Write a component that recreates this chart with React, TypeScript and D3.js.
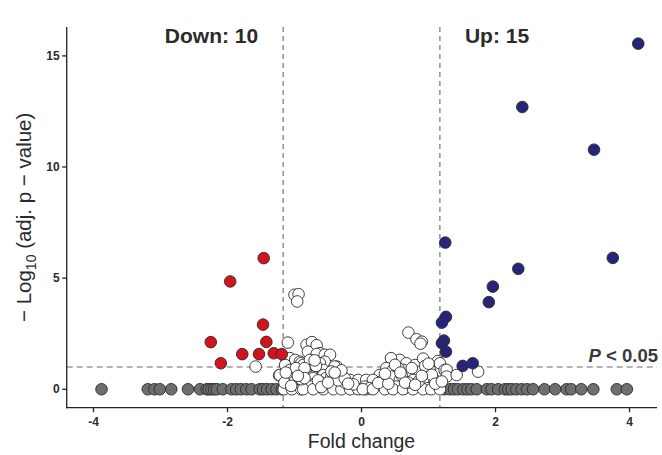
import React from "react";
import * as d3 from "d3";

const W = 662;
const H = 455;

// Significant down-regulated (red)
const downFC = [-1.46, -1.96, -1.47, -2.25, -1.42, -1.78, -1.53, -1.31, -1.19, -2.1];
const downP = [5.9, 4.85, 2.91, 2.12, 2.13, 1.58, 1.58, 1.62, 1.58, 1.17];

// Significant up-regulated (navy)
const upFC = [4.13, 2.4, 3.47, 1.25, 3.75, 2.34, 1.96, 1.9, 1.26, 1.2, 1.23, 1.2, 1.26, 1.51, 1.66];
const upP = [15.55, 12.7, 10.78, 6.6, 5.91, 5.42, 4.62, 3.92, 3.26, 3.0, 2.19, 2.07, 1.69, 1.05, 1.17];

// Not significant by p (white)
const nsFC = [
  -1.0, -0.94, -0.96,
  -1.1, -0.82, -0.74, -0.67, -0.8, -0.62, -0.67, -0.55, -0.47,
  -1.58, -1.23, -1.12, -1.07, -0.99, -0.92, -0.9, -0.87, -0.77, -0.55, -0.37, -0.4, -1.14, -0.62,
  -1.07, -0.92, -0.75, -0.57, -1.22, -1.07, -0.95, -0.82, -0.72, -0.72, -0.57, -0.53, -0.45, -0.3, -0.17, -0.05, 0.07,
  -1.0, -0.87, -0.75, -0.75, -0.62, -0.47, -0.37, -0.22, -0.1, 0.02,
  -1.16, -1.04, -0.9, -0.87, -0.72, -0.57, -0.42, -0.3, -0.17, -0.05, 0.07,
  -0.25, -0.35, -0.12, -0.65, -0.9, -1.15, -0.98, -0.85, -0.68, -0.45, -0.25,
  -1.05, -0.6, -0.5, -0.2, -0.3, -0.85, -1.13, -0.95, -0.7, -0.4,
  0.7, 0.82, 0.9, 0.88,
  0.45, 0.57, 0.67, 0.8, 0.92, 1.14, 1.17, 0.44,
  0.37, 0.47, 0.62, 0.72, 0.87, 1.02, 1.24, 1.27,
  0.27, 0.17, 0.32, 0.45, 0.57, 0.77, 0.94, 1.09, 1.27, 1.42, 1.74,
  0.05, 0.12, 0.3, 0.52, 0.65, 0.84, 0.99, 1.14,
  0.02, 0.17, 0.35, 0.47, 0.62, 0.77, 0.92, 1.04, 1.17,
  0.25, 0.4, 0.6, 0.75, 0.95, 1.05, 0.55, 0.85, 1.0, 0.7,
  0.5, 0.65, 0.9, 1.1, 0.35, 0.8, 1.2, 0.58,
];
const nsP = [
  4.25, 4.28, 3.95,
  2.1, 2.0, 2.12, 1.98, 1.69, 1.62, 1.58, 1.55, 1.55,
  1.02, 0.62, 1.32, 1.4, 1.32, 1.24, 1.17, 1.09, 1.32, 1.24, 1.02, 1.02, 1.09, 1.17,
  0.87, 0.72, 0.87, 0.87, 0.64, 0.57, 0.79, 0.72, 0.57, 0.5, 0.64, 0.5, 0.57, 0.64, 0.42, 0.42, 0.42,
  0.34, 0.27, 0.2, 0.12, 0.34, 0.19, 0.12, 0.12, 0.05, 0.05,
  0, 0, 0, 0, 0, 0, 0, 0, 0, 0, 0,
  0.3, 0.4, 0.22, 0.4, 0.45, 0.3, 0.95, 0.95, 1.05, 0.8, 0.48,
  0.15, 0.1, 0.3, 0.25, 0.85, 0.5, 0.75, 0.6, 1.3, 0.75,
  2.55, 2.25, 2.14, 2.05,
  1.35, 1.32, 1.17, 1.09, 1.38, 1.27, 1.17, 1.4,
  0.95, 0.87, 0.87, 0.72, 0.79, 0.87, 0.87, 0.87,
  0.64, 0.42, 0.42, 0.57, 0.42, 0.42, 0.5, 0.42, 0.57, 0.64, 0.79,
  0.12, 0.05, 0.19, 0.12, 0.05, 0.12, 0.05, 0.12,
  0, 0, 0, 0, 0, 0, 0, 0, 0,
  0.28, 0.25, 0.62, 0.95, 1.05, 0.65, 0.95, 0.35, 1.15, 0.3,
  1.1, 0.3, 0.6, 0.25, 0.7, 0.2, 0.35, 0.75,
];

// Not significant by fold change but p = 1 (grey, at zero)
const greyFC = [
  -3.88, -3.19, -3.09, -3.01, -2.84, -2.59, -2.41, -2.31, -2.28, -2.24, -2.2, -2.16, -2.07,
  -1.94, -1.87, -1.8, -1.72, -1.64, -1.52, -1.47, -1.41, -1.34, -1.27, -1.19,
  1.24, 1.32, 1.38, 1.44, 1.52, 1.58, 1.64, 1.72, 1.87, 1.94, 2.04, 2.14, 2.19, 2.24, 2.31,
  2.39, 2.47, 2.56, 2.73, 2.89, 3.06, 3.13, 3.28, 3.46, 3.81, 3.96,
];

const xTicks = [-4, -2, 0, 2, 4];
const yTicks = [0, 5, 10, 15];
const fcCut = 1.17;
const pCut = 1;
const downLabel = "Down: 10";
const upLabel = "Up: 15";

const FONT = "'Liberation Sans', Arial, Helvetica, sans-serif";

export default function App() {
  const x = d3.scaleLinear().domain([-4.4, 4.41]).range([66.7, 657]);
  const y = d3.scaleLinear().domain([-0.83, 16.3]).range([407.7, 27]);
  const r = 5.8;
  const x0 = x.range()[0];
  const x1 = x.range()[1];
  const yb = y.range()[0];
  const yt = y.range()[1];
  const textCol = "#2b2b2b";

  return (
    <svg width={W} height={H} style={{ position: "absolute", left: 0, top: 0 }} fontFamily={FONT}>
      <rect width={W} height={H} fill="#fff" />
      {/* threshold lines */}
      <g stroke="#6a6a6a" strokeWidth={1.1} strokeDasharray="5,4" fill="none">
        <line x1={x(-fcCut)} x2={x(-fcCut)} y1={yt} y2={yb} />
        <line x1={x(fcCut)} x2={x(fcCut)} y1={yt} y2={yb} />
        <line x1={x0} x2={x1} y1={y(pCut)} y2={y(pCut)} strokeDasharray="6,4" />
      </g>
      {/* points */}
      <g stroke="#2a2a2a" strokeWidth={0.9}>
        {greyFC.map((v, i) => (
          <circle key={"g" + i} cx={x(v)} cy={y(0)} r={r} fill="#6e6e6e" />
        ))}
        {nsFC.map((v, i) => (
          <circle key={"n" + i} cx={x(v)} cy={y(nsP[i])} r={r} fill="#ffffff" />
        ))}
        {downFC.map((v, i) => (
          <circle key={"d" + i} cx={x(v)} cy={y(downP[i])} r={r} fill="#d3141d" />
        ))}
        {upFC.map((v, i) => (
          <circle key={"u" + i} cx={x(v)} cy={y(upP[i])} r={r} fill="#28247c" />
        ))}
      </g>
      {/* axes */}
      <g stroke="#222" strokeWidth={1.3}>
        <line x1={x0} x2={x0} y1={yt} y2={yb + 0.6} />
        <line x1={x0 - 0.6} x2={x1} y1={yb} y2={yb} />
        {yTicks.map((t) => (
          <line key={"yt" + t} x1={x0 - 4.5} x2={x0} y1={y(t)} y2={y(t)} />
        ))}
        {xTicks.map((t) => (
          <line key={"xt" + t} x1={x(t)} x2={x(t)} y1={yb} y2={yb + 4.5} />
        ))}
      </g>
      <g fontSize={12} fontWeight="bold" fill={textCol}>
        {yTicks.map((t) => (
          <text key={"yl" + t} x={x0 - 7} y={y(t)} dy="0.35em" textAnchor="end">
            {t}
          </text>
        ))}
        {xTicks.map((t) => (
          <text key={"xl" + t} x={x(t)} y={yb + 18} textAnchor="middle">
            {t}
          </text>
        ))}
      </g>
      {/* axis titles */}
      <text x={x(0)} y={447.5} textAnchor="middle" fontSize={19.5} fill={textCol}>
        Fold change
      </text>
      <text
        transform={`translate(31,${(yt + yb) / 2}) rotate(-90)`}
        textAnchor="middle"
        fontSize={20.5}
        fill={textCol}
      >
        − Log<tspan fontSize={14} dy={5}>10</tspan>
        <tspan dy={-5}> (adj. p − value)</tspan>
      </text>
      {/* annotations */}
      <text x={211.5} y={43} textAnchor="middle" fontSize={21} fontWeight="bold" fill={textCol}>
        {downLabel}
      </text>
      <text x={497} y={43} textAnchor="middle" fontSize={21} fontWeight="bold" fill={textCol}>
        {upLabel}
      </text>
      <text x={658} y={362} textAnchor="end" fontSize={18.5} fontWeight="bold" fill="#3a3a3a">
        <tspan fontStyle="italic">P</tspan> &lt; 0.05
      </text>
    </svg>
  );
}
